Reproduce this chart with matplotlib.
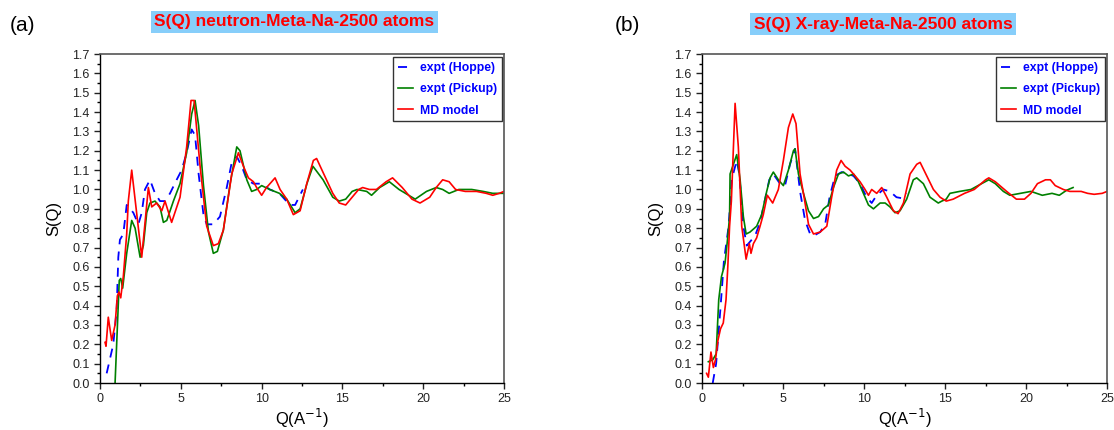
import numpy as np
import matplotlib.pyplot as plt
from matplotlib.ticker import MultipleLocator

plt.rcParams['font.family'] = ['Liberation Sans', 'DejaVu Sans']

# ---- panel (a): neutron ----
qa_md = [0.31, 0.37, 0.51, 0.72, 0.93, 1.07, 1.17, 1.28, 1.44, 1.65, 1.75, 1.96, 2.58, 2.99, 3.2, 3.5,
         3.82, 4.02, 4.43, 4.95, 5.36, 5.63, 5.82, 6.19, 6.6, 7.01, 7.32, 7.63, 8.15, 8.56, 8.87, 9.18,
         9.49, 9.69, 10.0, 10.3, 10.62, 10.83, 11.14, 11.55, 11.96, 12.38, 12.79, 13.2, 13.4, 13.9,
         14.4, 14.8, 15.2, 15.6, 16.0, 16.25, 16.67, 17.1, 17.7, 18.1, 18.7, 19.3, 19.8, 20.4, 20.8,
         21.2, 21.6, 22.0, 22.6, 23.3, 23.9, 24.3, 24.7, 25.0]
sa_md = [0.21, 0.19, 0.34, 0.22, 0.30, 0.45, 0.47, 0.44, 0.55, 0.77, 0.94, 1.10, 0.65, 1.01, 0.91, 0.93,
         0.89, 0.94, 0.83, 0.96, 1.22, 1.46, 1.46, 1.12, 0.81, 0.71, 0.72, 0.79, 1.08, 1.19, 1.12, 1.06,
         1.04, 1.01, 0.97, 1.01, 1.04, 1.06, 1.00, 0.95, 0.87, 0.89, 1.03, 1.15, 1.16, 1.07,
         0.98, 0.93, 0.92, 0.96, 1.00, 1.01, 1.00, 1.00, 1.04, 1.06, 1.01, 0.95, 0.93, 0.96, 1.01,
         1.05, 1.04, 1.00, 0.99, 0.99, 0.98, 0.97, 0.98, 0.99]

qa_pk = [0.93, 1.19, 1.28, 1.4, 1.65, 1.96, 2.17, 2.48, 2.68, 2.89, 3.09, 3.4, 3.71, 3.92, 4.13, 4.54,
         4.95, 5.36, 5.67, 5.88, 6.1, 6.4, 6.71, 7.01, 7.26, 7.63, 8.05, 8.46, 8.66, 9.08, 9.38, 9.69,
         10.0, 10.5, 11.1, 11.55, 12.07, 12.38, 12.8, 13.17, 13.8, 14.4, 14.8, 15.2, 15.6, 15.9, 16.5,
         16.8, 17.3, 17.9, 18.5, 19.1, 19.5, 20.2, 20.8, 21.2, 21.6, 22.2, 23.0, 23.7, 24.3, 25.0]
sa_pk = [0.0, 0.53, 0.54, 0.49, 0.67, 0.84, 0.80, 0.65, 0.71, 0.88, 0.93, 0.94, 0.91, 0.83, 0.84, 0.94,
         1.03, 1.19, 1.39, 1.46, 1.33, 1.02, 0.78, 0.67, 0.68, 0.79, 1.03, 1.22, 1.20, 1.05, 0.99, 1.00,
         1.02, 1.00, 0.98, 0.95, 0.88, 0.90, 1.03, 1.12, 1.05, 0.96, 0.94, 0.95, 0.99, 1.00, 0.99,
         0.97, 1.01, 1.04, 1.00, 0.97, 0.95, 0.99, 1.01, 1.00, 0.98, 1.00, 1.00, 0.99, 0.98, 0.98]

qa_hp = [0.41, 0.82, 1.03, 1.13, 1.23, 1.44, 1.65, 2.06, 2.37, 2.58, 2.78, 3.09, 3.4, 3.71, 4.02, 4.33,
         4.74, 5.05, 5.36, 5.67, 5.88, 6.1, 6.4, 6.6, 7.01, 7.42, 7.84, 8.15, 8.46, 8.77, 9.08, 9.49,
         10.0, 10.5, 11.1, 11.74, 12.07, 12.55]
sa_hp = [0.05, 0.20, 0.38, 0.65, 0.74, 0.77, 0.92, 0.88, 0.82, 0.88, 1.00, 1.05, 0.98, 0.94, 0.94, 0.98,
         1.05, 1.10, 1.19, 1.31, 1.28, 1.08, 0.87, 0.82, 0.82, 0.86, 1.01, 1.14, 1.17, 1.12, 1.05, 1.03,
         1.03, 1.00, 0.98, 0.92, 0.92, 1.00]

# ---- panel (b): X-ray ----
qb_md = [0.28, 0.39, 0.55, 0.7, 0.83, 0.98, 1.14, 1.31, 1.48, 1.59, 1.7, 1.81, 2.04, 2.24, 2.45, 2.72,
         2.92, 3.02, 3.17, 3.37, 3.58, 3.78, 4.03, 4.36, 4.71, 5.02, 5.33, 5.6, 5.8, 6.05, 6.3, 6.57,
         6.88, 7.29, 7.7, 8.0, 8.31, 8.58, 8.83, 9.14, 9.45, 9.75, 10.06, 10.27, 10.47, 10.78, 11.09,
         11.4, 11.81, 12.1, 12.43, 12.84, 13.25, 13.46, 13.87, 14.28, 14.69, 15.07, 15.5, 16.2, 16.8,
         17.5, 17.7, 18.1, 18.8, 19.4, 19.9, 20.3, 20.7, 21.2, 21.5, 21.8, 22.3, 22.7, 23.4, 23.8,
         24.2, 24.7, 25.0]
sb_md = [0.05, 0.03, 0.16, 0.08, 0.12, 0.22, 0.28, 0.31, 0.43, 0.60, 0.81, 0.94, 1.445, 1.22, 0.81, 0.64,
         0.72, 0.67, 0.72, 0.75, 0.81, 0.87, 0.97, 0.93, 1.00, 1.15, 1.32, 1.39, 1.34, 1.08, 0.96, 0.82,
         0.77, 0.78, 0.81, 0.96, 1.10, 1.15, 1.12, 1.10, 1.07, 1.04, 1.00, 0.97, 1.00, 0.98, 1.01,
         0.96, 0.89, 0.875, 0.93, 1.08, 1.13, 1.14, 1.07, 1.00, 0.96, 0.94, 0.95, 0.98, 1.00,
         1.05, 1.06, 1.04, 0.99, 0.95, 0.95, 0.98, 1.03, 1.05, 1.05, 1.02, 1.00, 0.99, 0.99, 0.98,
         0.975, 0.98, 0.99]

qb_pk = [0.39, 0.66, 0.87, 1.03, 1.2, 1.42, 1.57, 1.7, 1.73, 2.14, 2.35, 2.55, 2.72, 2.96, 3.37, 3.68,
         3.99, 4.2, 4.4, 4.71, 5.02, 5.33, 5.64, 5.74, 5.95, 6.26, 6.57, 6.88, 7.19, 7.5, 7.8, 8.11,
         8.42, 8.73, 9.04, 9.35, 9.65, 9.96, 10.27, 10.58, 10.99, 11.3, 11.6, 11.91, 12.22, 12.63,
         13.04, 13.25, 13.66, 14.07, 14.58, 14.8, 15.07, 15.3, 15.9, 16.6, 17.25, 17.7, 18.1, 18.6,
         19.0, 19.65, 20.3, 21.0, 21.6, 22.05, 22.5, 22.9]
sb_pk = [0.11, 0.12, 0.15, 0.43, 0.55, 0.62, 0.74, 0.86, 1.08, 1.18, 1.05, 0.86, 0.77, 0.78, 0.81, 0.87,
         0.99, 1.06, 1.09, 1.05, 1.02, 1.10, 1.20, 1.21, 1.08, 0.98, 0.89, 0.85, 0.86, 0.90, 0.92, 1.01,
         1.08, 1.09, 1.07, 1.08, 1.04, 0.98, 0.92, 0.90, 0.93, 0.93, 0.91, 0.88, 0.89, 0.95,
         1.05, 1.06, 1.03, 0.96, 0.93, 0.94, 0.95, 0.98, 0.99, 1.00, 1.03, 1.05, 1.03, 0.99,
         0.97, 0.98, 0.99, 0.97, 0.98, 0.97, 0.996, 1.01]

qb_hp = [0.66, 0.87, 1.14, 1.35, 1.64, 1.83, 2.14, 2.3, 2.55, 2.76, 2.96, 3.27, 3.58, 3.89, 4.15, 4.4,
         4.81, 5.12, 5.43, 5.74, 6.05, 6.36, 6.67, 6.88, 7.29, 7.6, 7.87, 8.21, 8.62, 9.04, 9.35, 9.75,
         10.16, 10.47, 10.78, 11.19, 11.6, 12.0, 12.32, 12.63]
sb_hp = [0.0, 0.10, 0.39, 0.63, 0.81, 1.05, 1.15, 1.08, 0.81, 0.71, 0.73, 0.76, 0.83, 0.95, 1.05, 1.08,
         1.03, 1.02, 1.13, 1.21, 0.99, 0.84, 0.77, 0.76, 0.78, 0.82, 0.96, 1.07, 1.09, 1.08, 1.07, 1.03,
         0.96, 0.93, 0.97, 1.00, 0.99, 0.96, 0.955, 0.98]

titles = ['S(Q) neutron-Meta-Na-2500 atoms', 'S(Q) X-ray-Meta-Na-2500 atoms']
panel_tags = ['(a)', '(b)']
labels = ['expt (Hoppe)', 'expt (Pickup)', 'MD model']

fig = plt.figure(figsize=(11.14, 4.30), dpi=100)

ax_a = fig.add_axes([0.0898, 0.1093, 0.3627, 0.7651])
ax_b = fig.add_axes([0.6302, 0.1093, 0.3636, 0.7651])

panels = [
    (ax_a, (qa_hp, sa_hp), (qa_pk, sa_pk), (qa_md, sa_md)),
    (ax_b, (qb_hp, sb_hp), (qb_pk, sb_pk), (qb_md, sb_md)),
]

for ax, hp, pk, md in panels:
    ax.plot(hp[0], hp[1], color='#0000ff', lw=1.3, dashes=(5, 4), label=labels[0])
    ax.plot(pk[0], pk[1], color='#008000', lw=1.2, label=labels[1])
    ax.plot(md[0], md[1], color='#ff0000', lw=1.2, label=labels[2])

    ax.set_xlim(0, 25)
    ax.set_ylim(0, 1.7)
    ax.xaxis.set_major_locator(MultipleLocator(5))
    ax.xaxis.set_minor_locator(MultipleLocator(2.5))
    ax.yaxis.set_major_locator(MultipleLocator(0.1))
    ax.yaxis.set_minor_locator(MultipleLocator(0.05))
    ax.yaxis.set_major_formatter(plt.FormatStrFormatter('%.1f'))
    ax.tick_params(which='major', direction='out', length=4, width=1, labelsize=9, colors='#222222')
    ax.tick_params(which='minor', direction='out', length=2.5, width=1)
    for side in ['left', 'bottom']:
        ax.spines[side].set_color('black')
        ax.spines[side].set_linewidth(1.0)
    for side in ['top', 'right']:
        ax.spines[side].set_color('#555555')
        ax.spines[side].set_linewidth(1.2)

    ax.set_xlabel('Q(A$^{-1}$)', fontsize=12, labelpad=1)
    ax.set_ylabel('S(Q)', fontsize=12, labelpad=8)

    leg = ax.legend(loc='upper right', bbox_to_anchor=(0.995, 0.99), borderaxespad=0,
                    fancybox=False, frameon=True, edgecolor='black',
                    prop={'weight': 'bold', 'size': 8.8}, handlelength=1.2,
                    labelspacing=0.75, borderpad=0.4, handletextpad=0.6)
    leg.get_frame().set_linewidth(1.0)
    for t in leg.get_texts():
        t.set_color('#0000ff')

# titles and panel tags
fig.text(0.2643, 0.949, titles[0], color='#ff0000', fontsize=12.5, fontweight='bold',
         ha='center', va='center',
         bbox=dict(boxstyle='square,pad=0.2', facecolor='#87cefa', edgecolor='none'))
fig.text(0.7927, 0.944, titles[1], color='#ff0000', fontsize=12.5, fontweight='bold',
         ha='center', va='center',
         bbox=dict(boxstyle='square,pad=0.2', facecolor='#87cefa', edgecolor='none'))
fig.text(0.009, 0.94, panel_tags[0], fontsize=15, ha='left', va='center')
fig.text(0.552, 0.94, panel_tags[1], fontsize=15, ha='left', va='center')

fig.savefig('out.png', dpi=100)
